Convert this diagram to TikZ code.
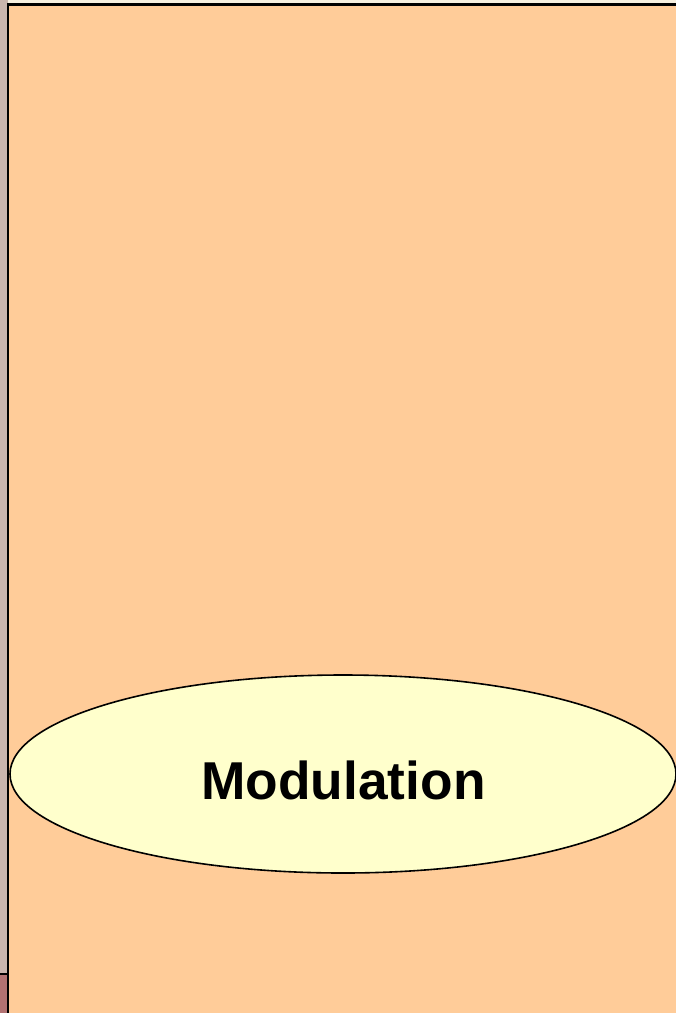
\documentclass[tikz,border=0pt]{standalone}
\usepackage{fontspec}
\setmainfont{Liberation Sans}
\usetikzlibrary{shapes.geometric}
\definecolor{bgorange}{HTML}{FFCC99}
\definecolor{lightyellow}{HTML}{FFFFCC}
\definecolor{stripgray}{HTML}{C9B5AE}
\definecolor{stripbeige}{HTML}{F6F0E0}
\definecolor{stripred}{HTML}{B27272}
\tikzset{
  bubble/.style={ellipse, draw=black, line width=1.6pt, fill=lightyellow, inner sep=0pt},
  bubbletext/.style={font=\fontsize{53.3}{60}\selectfont\bfseries}
}
\begin{document}
\begin{tikzpicture}[x=1pt,y=-1pt]
\useasboundingbox (0,0) rectangle (676,1013);
\fill[stripbeige] (0,0) rectangle (676,4);
\fill[stripgray] (0,0) rectangle (8,974);
\fill[stripred] (0,974) rectangle (8,1013);
\draw[line width=2pt] (0,974) -- (8,974);
\fill[bgorange] (8,4.5) rectangle (676,1013);
\draw[line width=2.2pt] (8,1013) -- (8,4.5) -- (676,4.5);
\node[bubble, minimum width=666, minimum height=198] (mod) at (343,774) {};
\node[bubbletext] (lbl) at (343.5,780) {Modulation};
\end{tikzpicture}
\end{document}
